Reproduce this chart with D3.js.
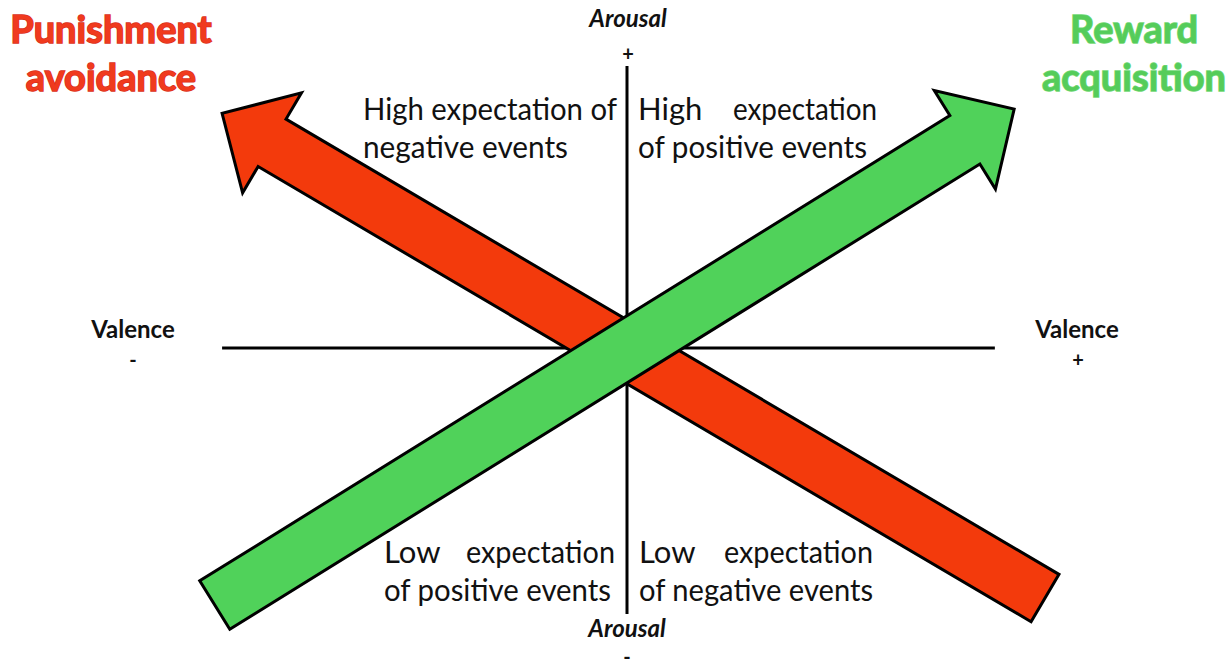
<!DOCTYPE html>
<html>
<head>
<meta charset="utf-8">
<script src="https://cdn.jsdelivr.net/npm/d3@7"></script>
<style>
  html, body { margin: 0; padding: 0; background: #fff; }
  svg { display: block; font-family: Lato, "Open Sans", sans-serif; }
</style>
</head>
<body>
<div id="chart"></div>
<script>
// arrows, in valence (x) / arousal (y) units
var arrowNames = ['Punishment avoidance', 'Reward acquisition'];
var arrowTails = [[1.083, -0.893], [-1.068, -0.918]];
var arrowTips = [[-1.049, 0.838], [1.003, 0.853]];
var arrowColors = ['#f33a0c', '#50d25a'];

// axis extents, same units
var valenceExtent = [-1.049, 0.953];
var arousalExtent = [-0.95, 1.007];

// labels
var titleLines = [['Punishment', 'avoidance'], ['Reward', 'acquisition']];
var axisLabels = ['Valence', 'Valence', 'Arousal', 'Arousal'];
var axisSigns = ['-', '+', '+', '-'];
var quadrantLines = [
    ['High expectation of', 'negative events'],
    ['High    expectation', 'of positive events'],
    ['Low    expectation', 'of positive events'],
    ['Low    expectation', 'of negative events']
];

var width = 1232, height = 669;

var x = d3.scaleLinear().domain([-1, 1]).range([241, 1013]);
var y = d3.scaleLinear().domain([-1, 1]).range([628, 68]);

var svg = d3.select('#chart').append('svg')
    .attr('width', width)
    .attr('height', height);

// axes
svg.append('line')
    .attr('x1', x(valenceExtent[0])).attr('x2', x(valenceExtent[1]))
    .attr('y1', y(0)).attr('y2', y(0))
    .attr('stroke', '#000').attr('stroke-width', 3);
svg.append('line')
    .attr('x1', x(0)).attr('x2', x(0))
    .attr('y1', y(arousalExtent[0])).attr('y2', y(arousalExtent[1]))
    .attr('stroke', '#000').attr('stroke-width', 3);

// arrow outline from tail to tip
function arrowPoints(tail, tip, shaftW, headL, headW) {
    var tx = x(tail[0]), ty = y(tail[1]);
    var px = x(tip[0]), py = y(tip[1]);
    var len = Math.hypot(px - tx, py - ty);
    var ux = (px - tx) / len, uy = (py - ty) / len;
    var nx = -uy, ny = ux;
    var bx = px - ux * headL, by = py - uy * headL;
    var s = shaftW / 2, h = headW / 2;
    return [
        [tx + nx * s, ty + ny * s],
        [bx + nx * s, by + ny * s],
        [bx + nx * h, by + ny * h],
        [px, py],
        [bx - nx * h, by - ny * h],
        [bx - nx * s, by - ny * s],
        [tx - nx * s, ty - ny * s]
    ];
}

var shaftWidths = [55, 57];

svg.selectAll('polygon.arrow')
    .data(arrowNames)
    .enter()
    .append('polygon')
    .attr('class', 'arrow')
    .attr('points', function (d, i) {
        return arrowPoints(arrowTails[i], arrowTips[i], shaftWidths[i], 58, 116)
            .map(function (p) { return p.join(','); }).join(' ');
    })
    .attr('fill', function (d, i) { return arrowColors[i]; })
    .attr('stroke', '#000')
    .attr('stroke-width', 3)
    .attr('stroke-linejoin', 'miter');

// titles
var titleX = [111, 1134];
var titleY = [43, 91];
var titleFill = ['#f03a1e', '#55cc5a'];
var titleStroke = ['#d9301a', '#6fd873'];
titleLines.forEach(function (lines, i) {
    svg.selectAll(null)
        .data(lines)
        .enter()
        .append('text')
        .attr('x', titleX[i])
        .attr('y', function (d, j) { return titleY[j]; })
        .attr('text-anchor', 'middle')
        .attr('font-size', 38)
        .attr('font-weight', 'bold')
        .attr('fill', titleFill[i])
        .attr('stroke', titleStroke[i])
        .attr('stroke-width', 1.5)
        .attr('paint-order', 'stroke')
        .text(function (d) { return d; });
});

// axis labels
var axisLabelPos = [[133, 338], [1077, 338], [628, 27], [627, 637]];
var axisSignPos = [[133, 367], [1078, 367], [628, 61], [627, 664]];
svg.selectAll('text.axis-label')
    .data(axisLabels)
    .enter()
    .append('text')
    .attr('class', 'axis-label')
    .attr('x', function (d, i) { return axisLabelPos[i][0]; })
    .attr('y', function (d, i) { return axisLabelPos[i][1]; })
    .attr('text-anchor', 'middle')
    .attr('font-size', 24)
    .attr('font-weight', 'bold')
    .attr('font-style', function (d) { return d === 'Arousal' ? 'italic' : 'normal'; })
    .attr('fill', '#111')
    .text(function (d) { return d; });
svg.selectAll('text.axis-sign')
    .data(axisSigns)
    .enter()
    .append('text')
    .attr('class', 'axis-sign')
    .attr('x', function (d, i) { return axisSignPos[i][0]; })
    .attr('y', function (d, i) { return axisSignPos[i][1]; })
    .attr('text-anchor', 'middle')
    .attr('font-size', 20)
    .attr('font-weight', 'bold')
    .attr('fill', '#111')
    .text(function (d) { return d; });

// quadrant texts: [left, first baseline], right edge per line
var quadBox = [[363, 120], [638, 120], [384, 563], [639, 563]];
var lineRight = [[617, 568], [877, 867], [615, 611], [873, 873]];
var lineGap = 38;
quadrantLines.forEach(function (lines, q) {
    lines.forEach(function (line, j) {
        var left = quadBox[q][0];
        var right = lineRight[q][j];
        var by = quadBox[q][1] + j * lineGap;
        var justified = /\s{2,}/.test(line);
        if (justified) {
            var words = line.split(/\s+/);
            svg.append('text')
                .attr('x', left).attr('y', by)
                .attr('font-size', 31).attr('fill', '#111')
                .text(words[0]);
            svg.append('text')
                .attr('x', right).attr('y', by)
                .attr('text-anchor', 'end')
                .attr('font-size', 31).attr('fill', '#111')
                .attr('textLength', q < 2 ? 144 : 149)
                .attr('lengthAdjust', 'spacingAndGlyphs')
                .text(words[1]);
        } else {
            svg.append('text')
                .attr('x', left).attr('y', by)
                .attr('font-size', 31).attr('fill', '#111')
                .attr('textLength', right - left)
                .attr('lengthAdjust', 'spacingAndGlyphs')
                .text(line);
        }
    });
});
</script>
</body>
</html>
